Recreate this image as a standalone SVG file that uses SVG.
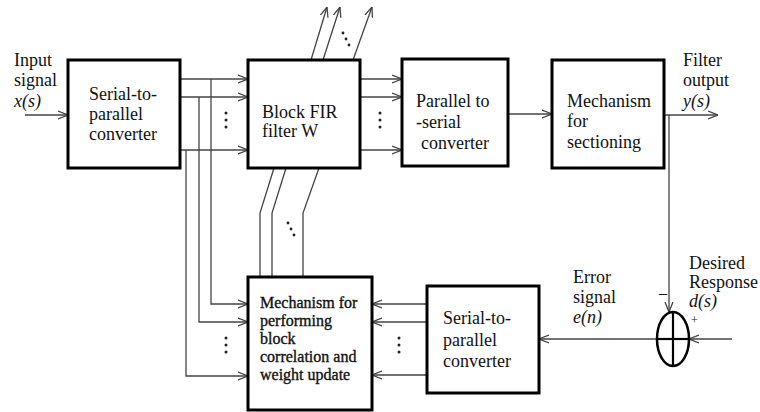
<svg xmlns="http://www.w3.org/2000/svg" width="760" height="412" viewBox="0 0 760 412">
<defs>
<marker id="arr" viewBox="0 0 10 10" refX="10" refY="5" markerWidth="10" markerHeight="10" markerUnits="userSpaceOnUse" orient="auto">
<polyline points="0,1 10,5 0,9" fill="none" stroke="#444" stroke-width="1.3"/>
</marker>
<style>
.box{fill:#fff;stroke:#000;stroke-width:3}
text{font-family:'Liberation Serif','DejaVu Serif','Times New Roman',serif}
.t{font-size:18px;fill:#111}
.tb{font-size:16px;fill:#111;stroke:#111;stroke-width:0.35}
.i{font-style:italic}
.c{fill:none;stroke:#444;stroke-width:1.3}
.a{marker-end:url(#arr)}
.dot{fill:#222}
</style>
</defs>
<rect width="760" height="412" fill="#fff"/>

<g id="connectors">
<line class="c a" x1="25" y1="115" x2="68" y2="115"/>
<line class="c a" x1="180" y1="79" x2="248" y2="79"/>
<line class="c a" x1="180" y1="97" x2="248" y2="97"/>
<line class="c a" x1="180" y1="150" x2="248" y2="150"/>
<polyline class="c a" points="211,79 211,304 248,304"/>
<polyline class="c a" points="199,97 199,322 248,322"/>
<polyline class="c a" points="186,150 186,376 248,376"/>
<line class="c a" x1="311" y1="60" x2="327" y2="7"/>
<line class="c a" x1="323" y1="60" x2="340" y2="7"/>
<line class="c a" x1="353" y1="60" x2="372" y2="7"/>
<polyline class="c" points="274,168 260,213 260,277"/>
<polyline class="c" points="286,168 272,213 272,277"/>
<polyline class="c" points="319,168 303,213 303,277"/>
<line class="c a" x1="360" y1="79" x2="402" y2="79"/>
<line class="c a" x1="360" y1="97" x2="402" y2="97"/>
<line class="c a" x1="360" y1="150" x2="402" y2="150"/>
<line class="c a" x1="508" y1="114" x2="552" y2="114"/>
<line class="c a" x1="664" y1="115" x2="718" y2="115"/>
<line class="c a" x1="669" y1="115" x2="669" y2="312"/>
<line class="c a" x1="732" y1="339" x2="689" y2="339"/>
<line class="c a" x1="657" y1="339" x2="539" y2="339"/>
<line class="c a" x1="427" y1="304" x2="372" y2="304"/>
<line class="c a" x1="427" y1="322" x2="372" y2="322"/>
<line class="c a" x1="427" y1="375" x2="372" y2="375"/>
<g class="dot">
<circle cx="226" cy="113" r="1.5"/><circle cx="226" cy="120" r="1.5"/><circle cx="226" cy="127" r="1.5"/>
<circle cx="380" cy="113" r="1.5"/><circle cx="380" cy="120" r="1.5"/><circle cx="380" cy="127" r="1.5"/>
<circle cx="226" cy="338" r="1.5"/><circle cx="226" cy="345" r="1.5"/><circle cx="226" cy="352" r="1.5"/>
<circle cx="399" cy="338" r="1.5"/><circle cx="399" cy="345" r="1.5"/><circle cx="399" cy="352" r="1.5"/>
<circle cx="343" cy="33" r="1.4"/><circle cx="346" cy="39" r="1.4"/><circle cx="349" cy="45" r="1.4"/>
<circle cx="288" cy="223" r="1.4"/><circle cx="291" cy="229" r="1.4"/><circle cx="294" cy="235" r="1.4"/>
</g>
</g>

<g id="labels">
<text class="t" x="14" y="66">Input</text>
<text class="t" x="14" y="86">signal</text>
<text class="t i" x="14" y="107">x(s)</text>
<text class="t" x="683" y="66">Filter</text>
<text class="t" x="683" y="86">output</text>
<text class="t i" x="683" y="107">y(s)</text>
<text class="t" x="573" y="283">Error</text>
<text class="t" x="573" y="303">signal</text>
<text class="t i" x="573" y="323">e(n)</text>
<text class="t" x="689" y="269">Desired</text>
<text class="t" x="689" y="288">Response</text>
<text class="t i" x="689" y="307">d(s)</text>
<text class="t" x="659" y="298" style="font-size:16px">–</text>
<text class="t" x="691" y="324" style="font-size:12px">+</text>
</g>

<g id="sp1">
<rect class="box" x="68" y="60" width="112" height="108"/>
<text class="t" x="89" y="100">Serial-to-</text>
<text class="t" x="89" y="120">parallel</text>
<text class="t" x="89" y="140">converter</text>
</g>

<g id="fir">
<rect class="box" x="248" y="60" width="112" height="108"/>
<text class="t" x="262" y="118">Block FIR</text>
<text class="t" x="262" y="137">filter W</text>
</g>

<g id="ps">
<rect class="box" x="402" y="59" width="106" height="107"/>
<text class="t" x="416" y="107">Parallel to</text>
<text class="t" x="416" y="128">-serial</text>
<text class="t" x="421" y="149">converter</text>
</g>

<g id="section">
<rect class="box" x="552" y="60" width="112" height="108"/>
<text class="t" x="567" y="107">Mechanism</text>
<text class="t" x="567" y="127">for</text>
<text class="t" x="567" y="148">sectioning</text>
</g>

<g id="update">
<rect class="box" x="248" y="277" width="124" height="133"/>
<text class="tb" x="260" y="308">Mechanism for</text>
<text class="tb" x="260" y="326">performing</text>
<text class="tb" x="260" y="344">block</text>
<text class="tb" x="260" y="362">correlation and</text>
<text class="tb" x="260" y="380">weight update</text>
</g>

<g id="sp2">
<rect class="box" x="427" y="286" width="112" height="107"/>
<text class="t" x="443" y="324">Serial-to-</text>
<text class="t" x="443" y="346">parallel</text>
<text class="t" x="443" y="367">converter</text>
</g>

<g id="sum">
<ellipse cx="673" cy="339" rx="16" ry="27" fill="none" stroke="#000" stroke-width="2.5"/>
<line x1="673" y1="312" x2="673" y2="366" stroke="#000" stroke-width="2.2"/>
<line x1="657" y1="339" x2="689" y2="339" stroke="#000" stroke-width="2.2"/>
</g>
</svg>
